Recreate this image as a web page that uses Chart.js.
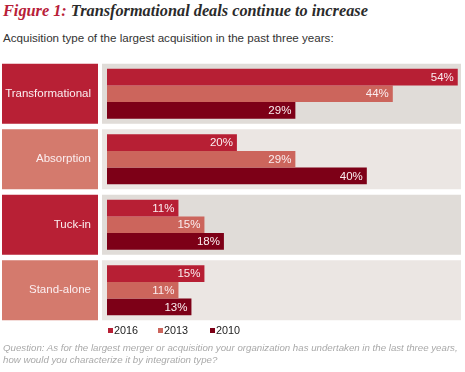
<!DOCTYPE html>
<html>
<head>
<meta charset="utf-8">
<script src="https://cdn.jsdelivr.net/npm/chart.js@4"></script>
<style>
  body { margin: 0; width: 465px; height: 372px; background: #fff; position: relative; overflow: hidden; font-family: "Liberation Sans", Arial, sans-serif; }
  #title { position: absolute; left: 3px; top: 1px; font-family: "Liberation Serif", serif; font-style: italic; font-weight: bold; font-size: 16.3px; color: #2b2b2b; white-space: nowrap; }
  #title span { color: #b82038; }
  #sub { position: absolute; left: 3px; top: 31px; font-size: 11.6px; color: #333; white-space: nowrap; }
  #wrap { position: absolute; left: 0; top: 0; width: 465px; height: 372px; }
  #legend { position: absolute; top: 324px; left: 0; font-size: 10.8px; color: #222; }
  #legend div { position: absolute; white-space: nowrap; }
  #legend i { display: inline-block; width: 5px; height: 5px; margin-right: 1px; vertical-align: 1px; }
  #note { position: absolute; left: 3px; top: 342px; font-size: 9.7px; line-height: 11.5px; font-style: italic; color: #a9a9a9; white-space: nowrap; }
</style>
</head>
<body>
<div id="title"><span>Figure 1:</span> Transformational deals continue to increase</div>
<div id="sub">Acquisition type of the largest acquisition in the past three years:</div>
<div id="wrap"><canvas id="grafico" width="465" height="372"></canvas></div>
<div id="legend"></div>
<div id="note">Question: As for the largest merger or acquisition your organization has undertaken in the last three years,<br>how would you characterize it by integration type?</div>
<script>
const categorias = ['Transformational', 'Absorption', 'Tuck-in', 'Stand-alone'];
const anos = ['2016', '2013', '2010'];
const valores2016 = [54, 20, 11, 15];
const valores2013 = [44, 29, 15, 11];
const valores2010 = [29, 40, 18, 13];

const coresBarras = ['#b71f34', '#cc655c', '#7d0017'];
const coresCaixa = ['#b82035', '#d47a6d', '#b82035', '#d47a6d'];
const coresPainel = ['#e0dcd8', '#ebe6e3', '#e0dcd8', '#ebe6e3'];

// legend in html
const legendXs = [108, 158, 210];
const leg = document.getElementById('legend');
anos.forEach((a, i) => {
  const d = document.createElement('div');
  d.style.left = legendXs[i] + 'px';
  d.innerHTML = '<i style="background:' + coresBarras[i] + '"></i>' + a;
  leg.appendChild(d);
});

// boxes on the left and grey panels behind the bars
const fundos = {
  id: 'fundos',
  beforeDraw(chart) {
    const c = chart.ctx, y = chart.scales.y, area = chart.chartArea;
    categorias.forEach((cat, i) => {
      const yc = y.getPixelForValue(i);
      c.fillStyle = coresCaixa[i];
      c.fillRect(2, yc - 30, 96, 60);
      c.fillStyle = coresPainel[i];
      c.fillRect(area.left - 5, yc - 30, area.right - area.left + 5, 60);
    });
  }
};

// percentage labels inside bar end
const rotulos = {
  id: 'rotulos',
  afterDatasetsDraw(chart) {
    const c = chart.ctx;
    c.save();
    c.font = '11.5px "Liberation Sans", Arial, sans-serif';
    c.fillStyle = '#fbeef0';
    c.textAlign = 'right';
    c.textBaseline = 'middle';
    chart.data.datasets.forEach((ds, di) => {
      chart.getDatasetMeta(di).data.forEach((bar, i) => {
        c.fillText(ds.data[i] + '%', bar.x - 4, bar.y + 0.5);
      });
    });
    c.restore();
  }
};

const ctx = document.getElementById('grafico').getContext('2d');
const grafico = new Chart(ctx, {
  type: 'bar',
  data: {
    labels: categorias,
    datasets: [
      { label: anos[0], data: valores2016, backgroundColor: coresBarras[0] },
      { label: anos[1], data: valores2013, backgroundColor: coresBarras[1] },
      { label: anos[2], data: valores2010, backgroundColor: coresBarras[2] }
    ]
  },
  options: {
    indexAxis: 'y',
    responsive: false,
    animation: false,
    devicePixelRatio: 1,
    categoryPercentage: 0.763,
    barPercentage: 1,
    layout: { padding: { left: 0, right: 4, top: 61, bottom: 49 } },
    plugins: { legend: { display: false }, tooltip: { enabled: false } },
    scales: {
      x: { display: false, min: 0, max: 54.5 },
      y: {
        grid: { display: false, drawTicks: false },
        border: { display: false },
        ticks: { color: '#fbeef0', padding: 16, font: { size: 11.5, family: '"Liberation Sans", Arial, sans-serif' } },
        afterFit(scale) { scale.width = 107; }
      }
    }
  },
  plugins: [fundos, rotulos]
});
</script>
</body>
</html>
